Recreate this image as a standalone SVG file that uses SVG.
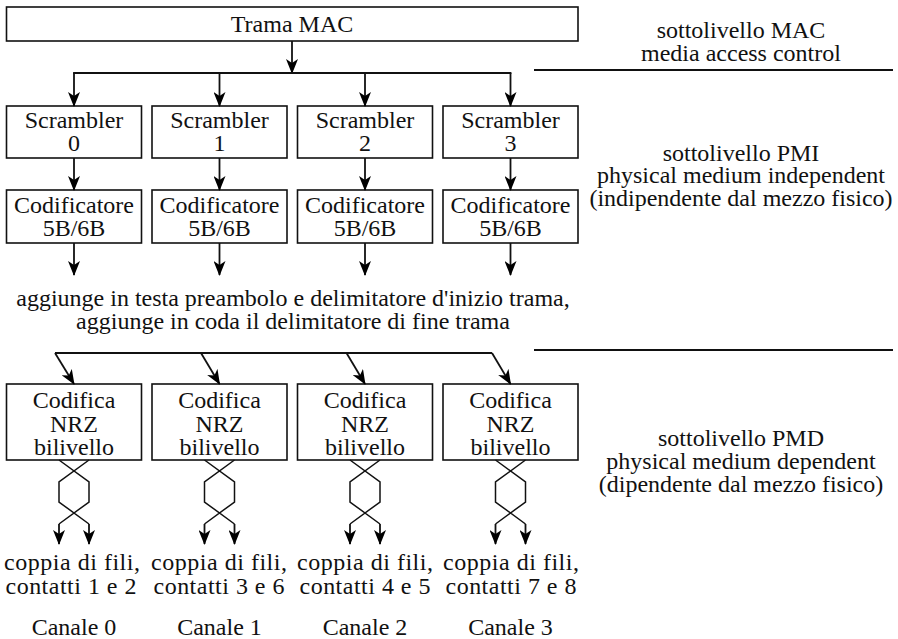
<svg xmlns="http://www.w3.org/2000/svg" width="898" height="639" viewBox="0 0 898 639">
<defs>
<marker id="ah" markerUnits="userSpaceOnUse" viewBox="0 0 15 12" refX="14" refY="6" markerWidth="15" markerHeight="12" orient="auto">
<path d="M15,6 L0,0 L4,6 L0,12 z" fill="#000"/>
</marker>
<style>
text{font-size:24px;fill:#111;text-anchor:middle}
.box{fill:#fff;stroke:#111;stroke-width:1.6}
.ln{fill:none;stroke:#111;stroke-width:1.8}
.ar{fill:none;stroke:#111;stroke-width:1.8;marker-end:url(#ah)}
.tw{fill:none;stroke:#111;stroke-width:1.5}
</style>
</defs>
<rect width="898" height="639" fill="#fff"/>
<g font-family="Liberation Serif, Tinos, DejaVu Serif, serif">
<g id="trama-mac"><rect class="box" x="6.5" y="7" width="571.5" height="34"/><text x="292" y="32">Trama MAC</text></g>

<g id="scrambler-0"><rect class="box" x="6.5" y="106" width="135" height="52"/><text x="74" y="128">Scrambler</text><text x="74" y="151">0</text></g>
<g id="scrambler-1"><rect class="box" x="152" y="106" width="135" height="52"/><text x="219.5" y="128">Scrambler</text><text x="219.5" y="151">1</text></g>
<g id="scrambler-2"><rect class="box" x="297.5" y="106" width="135" height="52"/><text x="365" y="128">Scrambler</text><text x="365" y="151">2</text></g>
<g id="scrambler-3"><rect class="box" x="443" y="106" width="135" height="52"/><text x="510.5" y="128">Scrambler</text><text x="510.5" y="151">3</text></g>

<g id="codificatore-0"><rect class="box" x="6.5" y="190" width="135" height="53"/><text x="74" y="213">Codificatore</text><text x="74" y="236">5B/6B</text></g>
<g id="codificatore-1"><rect class="box" x="152" y="190" width="135" height="53"/><text x="219.5" y="213">Codificatore</text><text x="219.5" y="236">5B/6B</text></g>
<g id="codificatore-2"><rect class="box" x="297.5" y="190" width="135" height="53"/><text x="365" y="213">Codificatore</text><text x="365" y="236">5B/6B</text></g>
<g id="codificatore-3"><rect class="box" x="443" y="190" width="135" height="53"/><text x="510.5" y="213">Codificatore</text><text x="510.5" y="236">5B/6B</text></g>

<g id="framing-note"><text x="293" y="306">aggiunge in testa preambolo e delimitatore d'inizio trama,</text><text x="293" y="329">aggiunge in coda il delimitatore di fine trama</text></g>

<g id="nrz-0"><rect class="box" x="6.5" y="384" width="135" height="76"/><text x="74" y="408">Codifica</text><text x="74" y="432">NRZ</text><text x="74" y="455">bilivello</text></g>
<g id="nrz-1"><rect class="box" x="152" y="384" width="135" height="76"/><text x="219.5" y="408">Codifica</text><text x="219.5" y="432">NRZ</text><text x="219.5" y="455">bilivello</text></g>
<g id="nrz-2"><rect class="box" x="297.5" y="384" width="135" height="76"/><text x="365" y="408">Codifica</text><text x="365" y="432">NRZ</text><text x="365" y="455">bilivello</text></g>
<g id="nrz-3"><rect class="box" x="443" y="384" width="135" height="76"/><text x="510.5" y="408">Codifica</text><text x="510.5" y="432">NRZ</text><text x="510.5" y="455">bilivello</text></g>

<g id="canale-0"><text x="72" y="570" textLength="136" lengthAdjust="spacing">coppia di fili,</text><text x="71" y="594" textLength="131" lengthAdjust="spacing">contatti 1 e 2</text><text x="74" y="635">Canale 0</text></g>
<g id="canale-1"><text x="219" y="570" textLength="136" lengthAdjust="spacing">coppia di fili,</text><text x="219" y="594" textLength="131" lengthAdjust="spacing">contatti 3 e 6</text><text x="219.5" y="635">Canale 1</text></g>
<g id="canale-2"><text x="365" y="570" textLength="136" lengthAdjust="spacing">coppia di fili,</text><text x="365" y="594" textLength="131" lengthAdjust="spacing">contatti 4 e 5</text><text x="365" y="635">Canale 2</text></g>
<g id="canale-3"><text x="511" y="570" textLength="136" lengthAdjust="spacing">coppia di fili,</text><text x="511" y="594" textLength="131" lengthAdjust="spacing">contatti 7 e 8</text><text x="510.5" y="635">Canale 3</text></g>

<g id="layer-labels">
<text x="741" y="38">sottolivello MAC</text><text x="741" y="61">media access control</text>
<line class="ln" x1="534" y1="70" x2="893" y2="70"/>
<text x="741" y="161">sottolivello PMI</text><text x="741" y="183">physical medium independent</text><text x="741" y="206">(indipendente dal mezzo fisico)</text>
<line class="ln" x1="534" y1="350" x2="893" y2="350"/>
<text x="741" y="446">sottolivello PMD</text><text x="741" y="469">physical medium dependent</text><text x="741" y="492">(dipendente dal mezzo fisico)</text>
</g>
</g>
<g id="connectors">
<line class="ar" x1="292" y1="41" x2="292" y2="73"/>
<line class="ln" x1="73.1" y1="73" x2="511.4" y2="73"/>
<line class="ar" x1="74" y1="73" x2="74" y2="106"/>
<line class="ar" x1="219.5" y1="73" x2="219.5" y2="106"/>
<line class="ar" x1="365" y1="73" x2="365" y2="106"/>
<line class="ar" x1="510.5" y1="73" x2="510.5" y2="106"/>

<line class="ar" x1="74" y1="158" x2="74" y2="190"/>
<line class="ar" x1="219.5" y1="158" x2="219.5" y2="190"/>
<line class="ar" x1="365" y1="158" x2="365" y2="190"/>
<line class="ar" x1="510.5" y1="158" x2="510.5" y2="190"/>

<line class="ar" x1="74" y1="243" x2="74" y2="275"/>
<line class="ar" x1="219.5" y1="243" x2="219.5" y2="275"/>
<line class="ar" x1="365" y1="243" x2="365" y2="275"/>
<line class="ar" x1="510.5" y1="243" x2="510.5" y2="275"/>

<line class="ln" x1="55" y1="353" x2="492" y2="353"/>
<line class="ar" x1="55" y1="353" x2="74" y2="384"/>
<line class="ar" x1="201" y1="353" x2="219.5" y2="384"/>
<line class="ar" x1="346.5" y1="353" x2="365" y2="384"/>
<line class="ar" x1="492" y1="353" x2="510.5" y2="384"/>

<path class="tw" d="M59,460 L89,482 L89,502 L59,524 M89,460 L59,482 L59,502 L89,524"/>
<path class="tw" d="M204.5,460 L234.5,482 L234.5,502 L204.5,524 M234.5,460 L204.5,482 L204.5,502 L234.5,524"/>
<path class="tw" d="M350,460 L380,482 L380,502 L350,524 M380,460 L350,482 L350,502 L380,524"/>
<path class="tw" d="M495.5,460 L525.5,482 L525.5,502 L495.5,524 M525.5,460 L495.5,482 L495.5,502 L525.5,524"/>
<line class="ar" x1="59" y1="524" x2="59" y2="544"/><line class="ar" x1="89" y1="524" x2="89" y2="544"/>
<line class="ar" x1="204.5" y1="524" x2="204.5" y2="544"/><line class="ar" x1="234.5" y1="524" x2="234.5" y2="544"/>
<line class="ar" x1="350" y1="524" x2="350" y2="544"/><line class="ar" x1="380" y1="524" x2="380" y2="544"/>
<line class="ar" x1="495.5" y1="524" x2="495.5" y2="544"/><line class="ar" x1="525.5" y1="524" x2="525.5" y2="544"/>
</g>
</svg>
